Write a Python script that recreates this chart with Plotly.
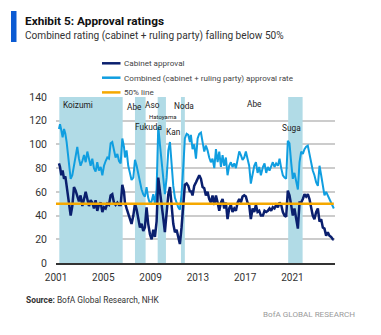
import plotly.graph_objects as go

# ---------------- data ----------------
years = [
    2001.25, 2001.34, 2001.45, 2001.56, 2001.68, 2001.79, 2001.90, 2002.01, 2002.13, 2002.24,
    2002.38, 2002.52, 2002.66, 2002.80, 2002.94, 2003.08, 2003.23, 2003.37, 2003.51, 2003.65,
    2003.79, 2003.93, 2004.07, 2004.21, 2004.35, 2004.49, 2004.63, 2004.78, 2004.92, 2005.06,
    2005.20, 2005.34, 2005.48, 2005.62, 2005.76, 2005.90, 2006.04, 2006.19, 2006.33, 2006.47,
    2006.61, 2006.75,
    2006.83, 2006.97, 2007.11, 2007.25, 2007.39, 2007.54, 2007.68, 2007.82, 2007.96, 2008.10,
    2008.24, 2008.38, 2008.52, 2008.66, 2008.80, 2008.95, 2009.09, 2009.23, 2009.37, 2009.51,
    2009.65, 2009.79, 2009.93, 2010.07, 2010.21, 2010.36, 2010.50, 2010.64, 2010.78, 2010.92,
    2011.06, 2011.20, 2011.34, 2011.48, 2011.62, 2011.76, 2011.90, 2012.05, 2012.19, 2012.33,
    2012.41, 2012.55, 2012.69, 2012.84, 2012.98, 2013.12, 2013.26, 2013.40, 2013.54, 2013.68,
    2013.82, 2013.96, 2014.10, 2014.24, 2014.39, 2014.53, 2014.67, 2014.81, 2014.95, 2015.09,
    2015.23, 2015.37, 2015.51, 2015.65, 2015.79, 2015.93, 2016.08, 2016.22, 2016.36, 2016.50,
    2016.64, 2016.78, 2016.92, 2017.06, 2017.20, 2017.34, 2017.48, 2017.63, 2017.77, 2017.91,
    2018.05, 2018.19, 2018.33,
    2018.50, 2018.64, 2018.78, 2018.92, 2019.06, 2019.20, 2019.34, 2019.48, 2019.62, 2019.77,
    2019.91, 2020.05, 2020.19, 2020.33, 2020.47, 2020.61, 2020.75, 2020.89, 2021.03, 2021.17,
    2021.32, 2021.46, 2021.60, 2021.74, 2021.88, 2022.02, 2022.16, 2022.30, 2022.44, 2022.58,
    2022.72, 2022.86, 2023.01, 2023.15, 2023.29, 2023.43, 2023.57, 2023.71, 2023.85, 2023.99,
    2024.13, 2024.27, 2024.41, 2024.50,
]

combined = [
    113, 117, 112, 106, 113, 109, 102, 91, 77, 71,
    74, 81, 89, 98, 88, 82, 86, 91, 85, 94,
    88, 82, 88, 80, 77, 85, 78, 81, 74, 82,
    86, 89, 88, 101, 102, 95, 89, 92, 86, 84,
    105, 98,
    89, 95, 82, 76, 70, 72, 87, 82, 75, 68,
    62, 58, 56, 64, 55, 50, 52, 58, 50, 62,
    115, 100, 85, 70, 58, 72, 95, 102, 80, 65,
    55, 50, 47, 45, 58, 80, 105, 109, 108, 102,
    108, 96, 100, 88, 105, 109, 110, 102, 94, 99,
    95, 89, 85, 88, 80, 96, 85, 94, 81, 91,
    82, 89, 74, 82, 85, 81, 84, 80, 88, 94,
    91, 87, 89, 94, 88, 82, 67, 76, 82, 85,
    76, 81, 74,
    81, 84, 76, 81, 78, 82, 85, 81, 84, 82,
    88, 80, 74, 72, 71, 103, 101, 85, 71, 76,
    68, 62, 85, 94, 92, 96, 98, 99, 92, 84,
    78, 74, 68, 65, 82, 74, 65, 57, 60, 57,
    54, 51, 47, 46,
]

cabinet = [
    84, 81, 74, 78, 71, 73, 65, 57, 46, 40,
    48, 64, 61, 57, 52, 57, 48, 54, 60, 54,
    48, 53, 51, 46, 53, 44, 49, 51, 43, 47,
    46, 50, 49, 57, 58, 51, 49, 51, 49, 49,
    66, 60,
    51, 46, 42, 37, 33, 40, 50, 45, 36, 30,
    33, 27, 30, 47, 33, 24, 20, 28, 22, 35,
    72, 62, 50, 38, 26, 42, 58, 64, 45, 33,
    26, 28, 22, 16, 30, 50, 66, 67, 65, 60,
    61, 57, 65, 68, 71, 74, 71, 64, 63, 57,
    60, 54, 51, 57, 49, 57, 51, 44, 51, 54,
    46, 51, 37, 46, 49, 43, 46, 44, 51, 54,
    51, 56, 57, 56, 51, 49, 37, 46, 43, 49,
    43, 44, 40,
    40, 44, 43, 44, 46, 44, 47, 46, 49, 47,
    51, 49, 43, 40, 39, 61, 57, 49, 40, 46,
    35, 29, 51, 51, 54, 58, 56, 58, 54, 46,
    40, 37, 43, 46, 35, 37, 30, 29, 23, 26,
    23, 22, 20, 20,
]

fifty_x = [2001.0, 2024.5]
fifty_y = [50, 50]

# shaded premierships (start, end)
shade_start = [2001.28, 2007.68, 2009.60, 2011.57, 2020.64]
shade_end = [2006.64, 2008.58, 2010.30, 2011.90, 2021.86]

# premier labels: text, x(year), y(value), font size
pm_names = ["Koizumi", "Abe", "Aso", "Hatoyama", "Fukuda", "Kan", "Noda", "Abe", "Suga", "Kishida"]
pm_x = [2002.88, 2007.60, 2009.15, 2010.05, 2008.86, 2010.94, 2011.86, 2017.79, 2020.95, 2024.70]
pm_y = [133.5, 131.5, 133.0, 123.5, 114.5, 110.5, 132.5, 134.0, 113.8, 131.5]
pm_size = [8.3, 8.3, 8.3, 6, 8.3, 8.3, 8.3, 8.3, 8.3, 8.3]

x_ticks = [2001, 2005, 2009, 2013, 2017, 2021]
y_ticks = [0, 20, 40, 60, 80, 100, 120, 140]

legend_names = ["Cabinet approval", "Combined (cabinet + ruling party) approval rate", "50% line"]

# ---------------- styling ----------------
FONT = "Roboto, sans-serif"
NAVY = "#0a1f6e"
LIGHT = "#109ee0"
ORANGE = "#f5a800"
SHADE = "#b1dbe6"
TXT = "#333333"

W, H = 381, 335
ML, MR, MT, MB = 56, 46, 97, 72

def px(xp):
    return (xp - ML) / (W - ML - MR)

def py(yp):
    return (H - MB - yp) / (H - MT - MB)

fig = go.Figure()
fig.add_trace(go.Scatter(x=years, y=combined, mode="lines", name=legend_names[1],
                         line=dict(color=LIGHT, width=2), showlegend=False))
fig.add_trace(go.Scatter(x=years, y=cabinet, mode="lines", name=legend_names[0],
                         line=dict(color=NAVY, width=2.5), showlegend=False))
fig.add_trace(go.Scatter(x=fifty_x, y=fifty_y, mode="lines", name=legend_names[2],
                         line=dict(color=ORANGE, width=2.5), showlegend=False))

shapes = []
for s, e in zip(shade_start, shade_end):
    shapes.append(dict(type="rect", xref="x", yref="y", x0=s, x1=e, y0=0, y1=140,
                       fillcolor=SHADE, line=dict(width=0), layer="between"))

# title bar
shapes.append(dict(type="rect", xref="paper", yref="paper", x0=px(11), x1=px(16.5),
                   y0=py(42), y1=py(11), fillcolor="#0b5bd3", line=dict(width=0)))

# legend samples
leg_colors = [NAVY, LIGHT, ORANGE]
leg_y = [63.3, 77.7, 92.4]
annotations = []
for name, c, yy in zip(legend_names, leg_colors, leg_y):
    shapes.append(dict(type="line", xref="paper", yref="paper", x0=px(102), x1=px(120.5),
                       y0=py(yy), y1=py(yy), line=dict(color=c, width=2.5)))
    annotations.append(dict(xref="paper", yref="paper", x=px(121.5), y=py(yy), text=name,
                            showarrow=False, xanchor="left", yanchor="middle",
                            font=dict(family=FONT, size=8.1, color="#444444")))

for t, xx, yy, sz in zip(pm_names, pm_x, pm_y, pm_size):
    annotations.append(dict(xref="x", yref="y", x=xx, y=yy, text=t, showarrow=False,
                            xanchor="center", yanchor="middle",
                            font=dict(family=FONT, size=sz, color="#222222")))

annotations += [
    dict(xref="paper", yref="paper", x=px(23), y=py(20.5), text="<b>Exhibit 5: Approval ratings</b>",
         showarrow=False, xanchor="left", yanchor="middle",
         font=dict(family=FONT, size=11.8, color="#111111")),
    dict(xref="paper", yref="paper", x=px(23), y=py(35.5),
         text="Combined rating (cabinet + ruling party) falling below 50%",
         showarrow=False, xanchor="left", yanchor="middle",
         font=dict(family=FONT, size=10.1, color="#333333")),
    dict(xref="paper", yref="paper", x=px(24), y=py(300),
         text="<b>Source:</b> BofA Global Research, NHK",
         showarrow=False, xanchor="left", yanchor="middle",
         font=dict(family=FONT, size=8.4, color="#333333")),
    dict(xref="paper", yref="paper", x=px(357), y=py(313.5),
         text="BofA GLOBAL RESEARCH",
         showarrow=False, xanchor="right", yanchor="middle",
         font=dict(family=FONT, size=8.1, color="#9a9a9a")),
]

fig.update_layout(
    width=W, height=H,
    margin=dict(l=ML, r=MR, t=MT, b=MB),
    paper_bgcolor="white", plot_bgcolor="white",
    shapes=shapes, annotations=annotations,
    showlegend=False,
    font=dict(family=FONT, size=10, color=TXT),
)
fig.update_xaxes(range=[2001, 2024.6], tickvals=x_ticks, ticktext=[str(v) for v in x_ticks],
                 showgrid=False, zeroline=False, showline=True, linecolor="#333333", linewidth=1.5,
                 ticks="", ticklabelstandoff=4, tickfont=dict(family=FONT, size=10, color=TXT))
fig.update_yaxes(range=[0, 140], tickvals=y_ticks, showgrid=True, gridcolor="#cccccc", gridwidth=1.5,
                 zeroline=False, showline=False, ticks="", ticklabelstandoff=8,
                 tickfont=dict(family=FONT, size=10.5, color=TXT))

fig.write_html("out.html")
